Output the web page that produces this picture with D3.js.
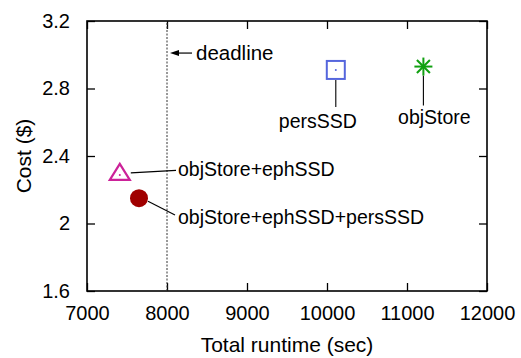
<!DOCTYPE html>
<html>
<head>
<meta charset="utf-8">
<script src="https://cdn.jsdelivr.net/npm/d3@7"></script>
<style>
  body { margin: 0; background: #fff; }
  text { font-family: "Liberation Sans", Arial, sans-serif; fill: #000; }
</style>
</head>
<body>
<div id="chart"></div>
<script>
// data
var names = ["objStore+ephSSD", "objStore+ephSSD+persSSD", "persSSD", "objStore"];
var runtimes = [7410, 7650, 10110, 11205];
var costs = [2.30, 2.15, 2.91, 2.93];
var shapes = ["triangle", "circle", "square", "star"];
var colors = ["#cc2299", "#a00000", "#5566dd", "#11a011"];
var xTicks = [7000, 8000, 9000, 10000, 11000, 12000];
var yTicks = [1.6, 2, 2.4, 2.8, 3.2];
var deadline = 8000;

var width = 521, height = 358;
var margin = {top: 21, right: 34, bottom: 67, left: 87};
var tickFont = 20, labelFont = 19.5, titleFont = 21;

var svg = d3.select("#chart").append("svg")
    .attr("width", width)
    .attr("height", height);

var x = d3.scaleLinear().domain([7000, 12000])
    .range([margin.left, width - margin.right]);
var y = d3.scaleLinear().domain([1.6, 3.2])
    .range([height - margin.bottom, margin.top]);

var tickLen = 8;

// axes (ticks pointing inward, mirrored)
var gx = svg.append("g")
    .attr("transform", "translate(0," + y.range()[0] + ")")
    .call(d3.axisBottom(x).tickValues(xTicks).tickSize(-tickLen).tickPadding(tickLen + 7).tickFormat(d3.format("d")));
var gx2 = svg.append("g")
    .attr("transform", "translate(0," + y.range()[1] + ")")
    .call(d3.axisTop(x).tickValues(xTicks).tickSize(-tickLen).tickFormat(""));
var gy = svg.append("g")
    .attr("transform", "translate(" + x.range()[0] + ",0)")
    .call(d3.axisLeft(y).tickValues(yTicks).tickSize(-tickLen).tickPadding(tickLen + 9).tickFormat(d3.format("")));
var gy2 = svg.append("g")
    .attr("transform", "translate(" + x.range()[1] + ",0)")
    .call(d3.axisRight(y).tickValues(yTicks).tickSize(-tickLen).tickFormat(""));

[gx, gx2, gy, gy2].forEach(function(g) {
    g.select(".domain").remove();
    g.selectAll(".tick line").attr("stroke", "#000").attr("stroke-width", 1.3);
    g.selectAll("text")
        .style("font-size", tickFont + "px")
        .style("font-family", "Liberation Sans, Arial, sans-serif")
        .attr("fill", "#000");
});

// frame
svg.append("rect")
    .attr("x", x.range()[0])
    .attr("y", y.range()[1])
    .attr("width", x.range()[1] - x.range()[0])
    .attr("height", y.range()[0] - y.range()[1])
    .attr("fill", "none")
    .attr("stroke", "#000")
    .attr("stroke-width", 1.6);

// deadline
svg.append("line")
    .attr("x1", x(deadline)).attr("x2", x(deadline))
    .attr("y1", y.range()[0]).attr("y2", y.range()[1])
    .attr("stroke", "#333")
    .attr("stroke-width", 1)
    .attr("stroke-dasharray", "2,1.5");

var ay = y(3.01);
var ax = x(deadline) + 3;
svg.append("line")
    .attr("x1", ax + 6).attr("x2", ax + 22)
    .attr("y1", ay).attr("y2", ay)
    .attr("stroke", "#000")
    .attr("stroke-width", 1.2);
svg.append("path")
    .attr("d", "M" + ax + "," + ay + " L" + (ax + 9) + "," + (ay - 3) + " L" + (ax + 9) + "," + (ay + 3) + " Z")
    .attr("fill", "#000");
svg.append("text")
    .attr("x", x(deadline) + 29)
    .attr("y", ay + 7)
    .style("font-size", "20.5px")
    .text("deadline");

// point labels with leader lines
var labelPos = [
    {tx: x(8000) + 11, ty: y(2.30) + 3, anchor: "start", lx: x(8000) + 9, ly: y(2.315), px: 11, py: 0},
    {tx: x(8000) + 11, ty: y(2.035) + 6, anchor: "start", lx: x(8000) + 8, ly: y(2.05), px: 9, py: 3},
    {tx: x(10110) - 18, ty: y(2.61) + 7, anchor: "middle", lx: x(10110), ly: y(2.69), px: 0, py: 10},
    {tx: x(11205) + 11, ty: y(2.63) + 7, anchor: "middle", lx: x(11205), ly: y(2.7), px: 0, py: 9}
];

names.forEach(function(n, i) {
    var p = labelPos[i];
    svg.append("line")
        .attr("x1", x(runtimes[i]) + p.px).attr("y1", y(costs[i]) + p.py)
        .attr("x2", p.lx).attr("y2", p.ly)
        .attr("stroke", "#000")
        .attr("stroke-width", 1.1);
    svg.append("text")
        .attr("x", p.tx)
        .attr("y", p.ty)
        .attr("text-anchor", p.anchor)
        .style("font-size", labelFont + "px")
        .text(n);
});

// markers
names.forEach(function(n, i) {
    var cx = x(runtimes[i]), cy = y(costs[i]);
    var g = svg.append("g").attr("transform", "translate(" + cx + "," + cy + ")");
    var c = colors[i];
    if (shapes[i] === "triangle") {
        g.append("path").attr("d", "M0,-9 L10,7 L-10,7 Z")
            .attr("fill", "none").attr("stroke", c).attr("stroke-width", 2.2);
        g.append("circle").attr("r", 1).attr("cx", 0).attr("cy", 2).attr("fill", c);
    } else if (shapes[i] === "circle") {
        g.append("circle").attr("r", 9).attr("fill", c);
    } else if (shapes[i] === "square") {
        g.append("rect").attr("x", -9).attr("y", -9).attr("width", 18).attr("height", 18)
            .attr("fill", "none").attr("stroke", c).attr("stroke-width", 2);
        g.append("circle").attr("r", 1).attr("fill", c);
    } else {
        var r = 9, d = 6.5;
        var segs = [[-r, 0, r, 0], [0, -r, 0, r], [-d, -d, d, d], [-d, d, d, -d]];
        segs.forEach(function(s) {
            g.append("line").attr("x1", s[0]).attr("y1", s[1]).attr("x2", s[2]).attr("y2", s[3])
                .attr("stroke", c).attr("stroke-width", 2);
        });
    }
});

// axis titles
svg.append("text")
    .attr("x", (x.range()[0] + x.range()[1]) / 2)
    .attr("y", 352)
    .attr("text-anchor", "middle")
    .style("font-size", titleFont + "px")
    .text("Total runtime (sec)");
svg.append("text")
    .attr("transform", "translate(31," + ((y.range()[0] + y.range()[1]) / 2) + ") rotate(-90)")
    .attr("text-anchor", "middle")
    .style("font-size", titleFont + "px")
    .text("Cost ($)");
</script>
</body>
</html>
